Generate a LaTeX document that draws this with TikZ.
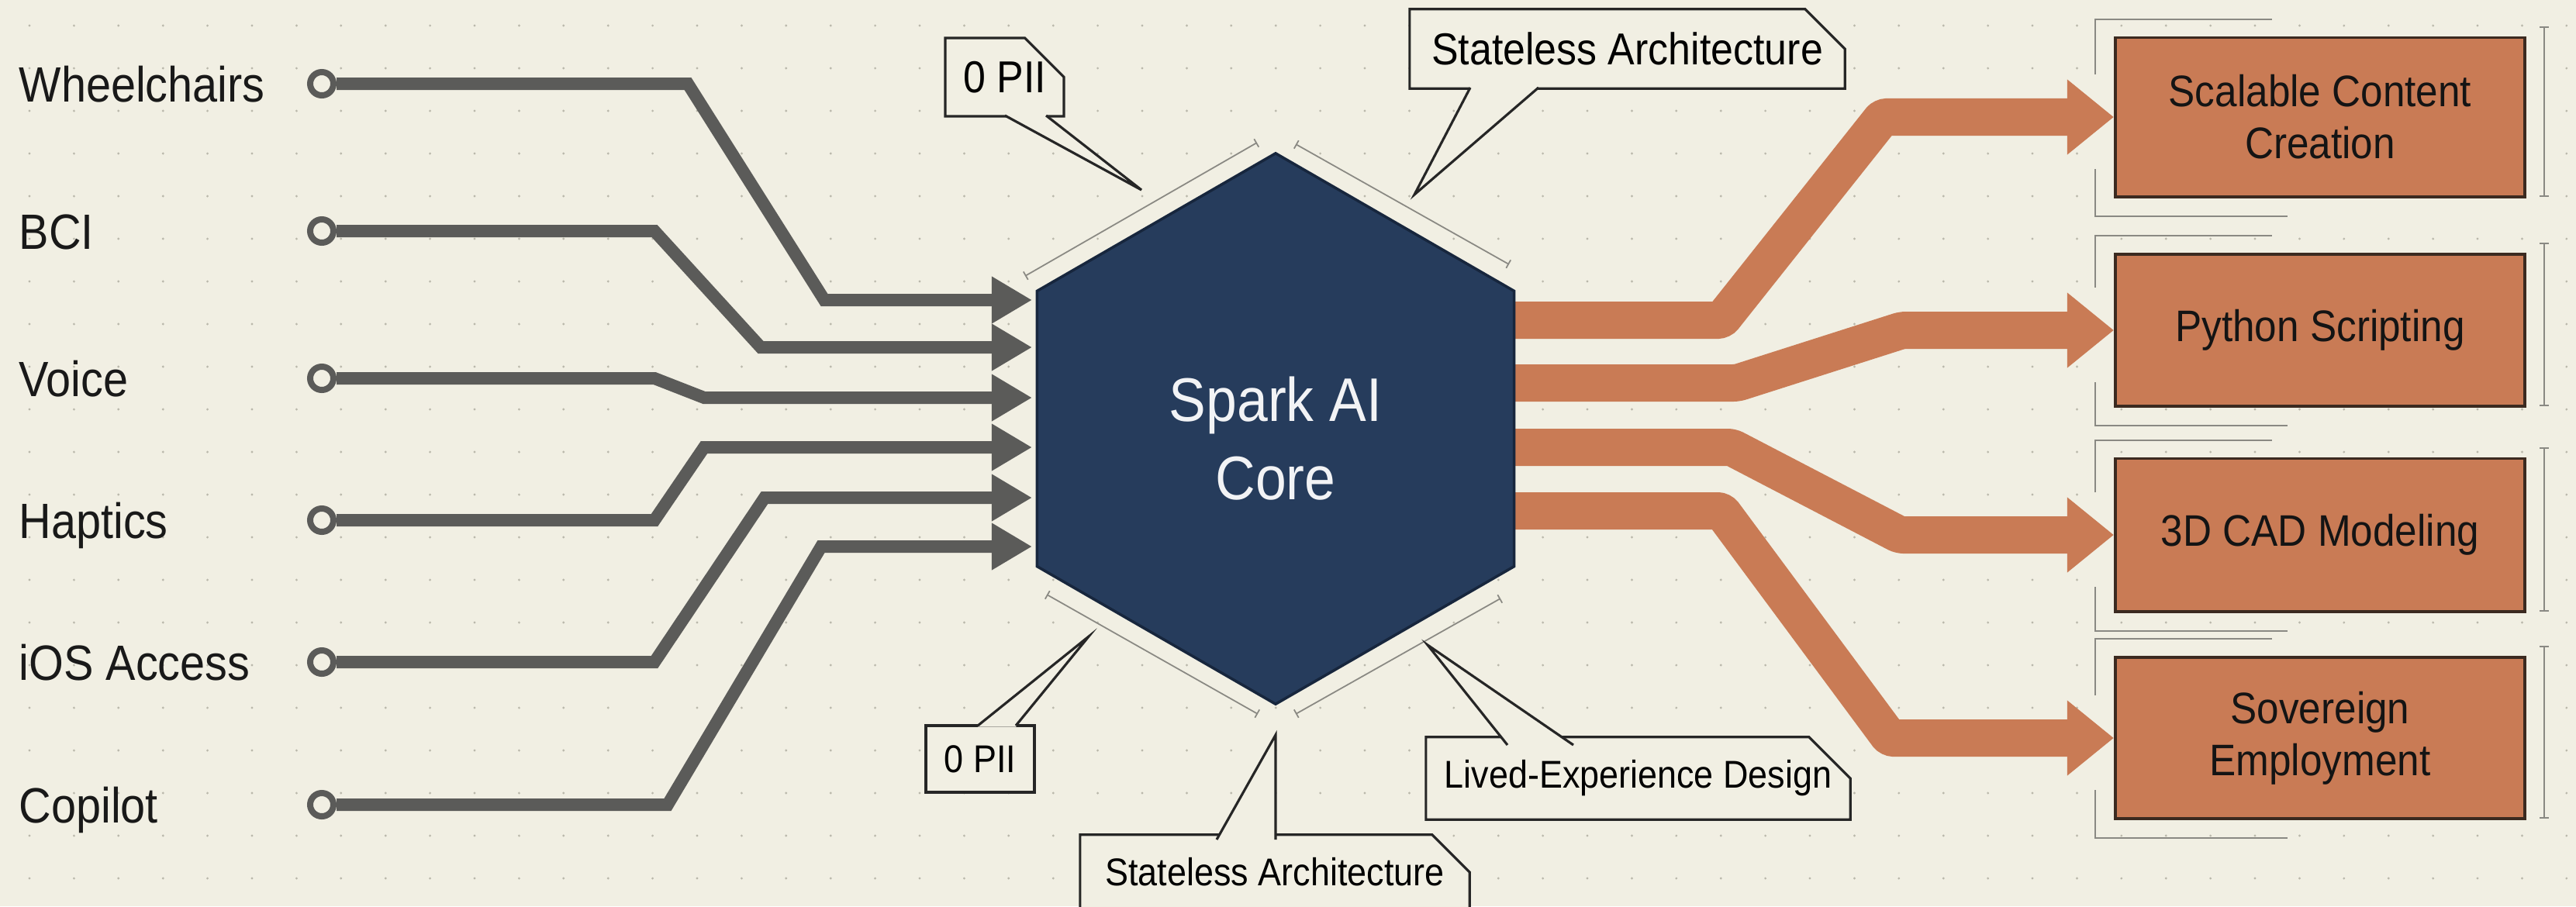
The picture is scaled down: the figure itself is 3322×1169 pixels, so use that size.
\documentclass[tikz,border=0pt]{standalone}
\usepackage{fontspec}
\setmainfont{Liberation Sans}[FakeStretch=0.9]
\usetikzlibrary{arrows.meta,shapes.geometric,shapes.misc}
\definecolor{paper}{HTML}{F1EFE3}
\definecolor{griddot}{HTML}{BAB8AB}
\definecolor{wire}{HTML}{5B5B59}
\definecolor{navy}{HTML}{263C5C}
\definecolor{navyrim}{HTML}{17263D}
\definecolor{rust}{HTML}{C97B55}
\definecolor{rustrim}{HTML}{3B2A20}
\definecolor{dimgray}{HTML}{8A8983}
% tail of a callout: base x1, base x2, edge y, cover y, tip
\newcommand\tail[5]{\fill[paper] (#1,#4) -- #5 -- (#2,#4) -- cycle; \draw[tagline] (#1,#3) -- #5 -- (#2,#3);}
% measure lines round an output box: top, bottom, centre
\newcommand\bracket[3]{\draw[dimline] (2702,#3-55) -- (2702,#1-24) -- (2930,#1-24);
  \draw[dimline] (2702,#3+67) -- (2702,#2+25) -- (2950,#2+25);
  \draw[dimline,dimbar] (3281,#1-15) -- (3281,#2);}

\begin{document}
\begin{tikzpicture}[x=0.01cm,y=-0.01cm,
    inlabel/.style={anchor=base west,inner sep=0,font=\fontsize{18.2}{22}\selectfont,text=black!90},
    socket/.style={circle,draw=wire,line width=0.08cm,fill=paper,minimum size=0.3cm,inner sep=0},
    inflow/.style={draw=wire,line width=0.16cm,-{Triangle[length=5.2mm,width=5.7mm]}},
    outflow/.style={draw=rust,line width=0.48cm,rounded corners=0.05cm,-{Triangle[length=6mm,width=9.3mm]}},
    hexcore/.style={regular polygon,regular polygon sides=6,regular polygon rotate=30,minimum size=7.1cm,
        fill=navy,draw=navyrim,line width=1pt,inner sep=0},
    coretext/.style={text=white!94!navy,align=center,font=\fontsize{22.6}{28.7}\selectfont},
    dimline/.style={draw=dimgray,line width=0.5pt},
    dimbar/.style={{Bar[width=1.2mm]}-{Bar[width=1.2mm]}},
    tagline/.style={draw=black!85,line width=0.9pt},
    tag/.style={tagline,fill=paper,inner sep=0,font=\fontsize{16.4}{19}\selectfont},
    tagsmall/.style={tag,font=\fontsize{14.2}{17}\selectfont},
    chamf/.style={chamfered rectangle,chamfered rectangle corners=north east,
        chamfered rectangle xsep=0.3cm,chamfered rectangle ysep=0.3cm},
    outbox/.style={rectangle,fill=rust,draw=rustrim,line width=1.1pt,minimum width=5.28cm,
        align=center,font=\fontsize{16.2}{19}\selectfont,text=black!92}]
  \useasboundingbox (0,0) rectangle (3322,1169);
  \fill[paper] (0,0) rectangle (3322,1169);
  \foreach \i in {0,...,57} \foreach \j in {0,...,20} \fill[griddot] (38+\i*57.4,33+\j*55) circle (0.016cm);

  % inputs
  \foreach \nm/\txt/\y/\xa/\xb/\yb in {wh/Wheelchairs/108/887/1063/387, bci/BCI/298/844/981/448,
      voice/Voice/488/844/908/513, hap/Haptics/671/844/908/577,
      ios/iOS Access/854/844/986/642, cop/Copilot/1038/861/1059/705}{
    \node[inlabel] (\nm-txt) at (24,\y+23) {\txt};
    \node[socket] (\nm) at (415,\y) {};
    \coordinate (\nm-in) at (1331,\yb);
    \draw[inflow] (\nm) -- (\xa,\y) -- (\xb,\yb) -- (\nm-in);
  }

  % outputs
  \node[outbox,minimum height=2.05cm] (scc) at (2992,151) {Scalable Content\\Creation};
  \node[outbox,minimum height=1.96cm] (py) at (2992,426) {Python Scripting};
  \node[outbox,minimum height=1.97cm] (cad) at (2992,690) {3D CAD Modeling};
  \node[outbox,minimum height=2.08cm] (sov) at (2992,952) {Sovereign\\Employment};
  \bracket{49}{254}{151}
  \bracket{328}{524}{426}
  \bracket{592}{789}{690}
  \bracket{848}{1056}{952}

  \coordinate (o1) at (1900,413);
  \coordinate (o2) at (1900,494);
  \coordinate (o3) at (1900,577);
  \coordinate (o4) at (1900,659);
  \draw[outflow] (o1) -- (2220,413) -- (2428,151) -- (scc.west);
  \draw[outflow] (o2) -- (2240,494) -- (2453,426) -- (py.west);
  \draw[outflow] (o3) -- (2233,577) -- (2450,690) -- (cad.west);
  \draw[outflow] (o4) -- (2220,659) -- (2437,952) -- (sov.west);

  % core
  \node[hexcore] (core) at (1645,553) {};
  \node[coretext] (coretitle) at (1645,566) {Spark AI\\Core};
  \draw[dimline,dimbar] (1322,356) -- (1621,184);
  \draw[dimline,dimbar] (1671,186) -- (1946,341);
  \draw[dimline,dimbar] (1350,767) -- (1622,921);
  \draw[dimline,dimbar] (1671,921) -- (1935,772);

  % callouts
  \node[tag,chamf,minimum width=1.53cm,minimum height=0.99cm] (pii-t) at (1295.5,99.5) {0 PII};
  \coordinate (pii-t-p) at (1472,245);
  \tail{1296}{1349}{149}{147.4}{(pii-t-p)}
  \node[tag,chamf,minimum width=5.61cm,minimum height=1cm] (sa-t) at (2098.5,63) {Stateless Architecture};
  \coordinate (sa-t-p) at (1824,251);
  \tail{1896}{1984}{113}{111.4}{(sa-t-p)}
  \node[tagsmall,rectangle,minimum width=1.4cm,minimum height=0.86cm] (pii-b) at (1264,979) {0 PII};
  \coordinate (pii-b-p) at (1404,821);
  \tail{1261}{1310}{936}{937.6}{(pii-b-p)}
  \node[tagsmall,chamf,minimum width=5.02cm,minimum height=0.84cm] (sa-b) at (1644,1125) {Stateless Architecture};
  \coordinate (sa-b-p) at (1645,948);
  \tail{1569}{1645}{1083}{1084.6}{(sa-b-p)}
  \node[tagsmall,chamf,minimum width=5.47cm,minimum height=0.86cm] (led) at (2112.5,1004) {Lived-Experience Design};
  \coordinate (led-p) at (1841,832);
  \tail{1944}{2029}{961}{962.6}{(led-p)}
\end{tikzpicture}
\end{document}
